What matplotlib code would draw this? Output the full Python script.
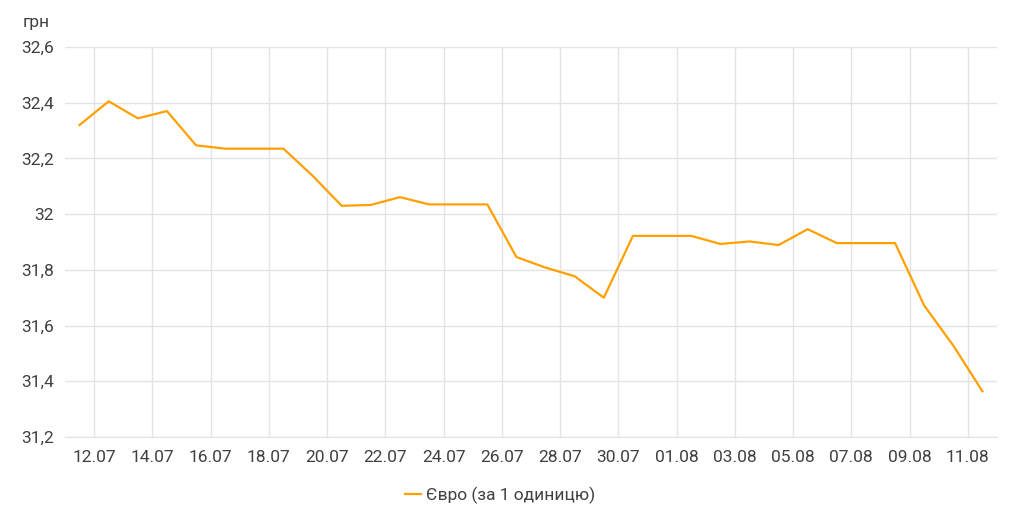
import matplotlib.pyplot as plt
import numpy as np

# Euro rate, one value per day from 11.07 to 11.08 (plotted at midday)
dates = ["11.07", "12.07", "13.07", "14.07", "15.07", "16.07", "17.07", "18.07",
         "19.07", "20.07", "21.07", "22.07", "23.07", "24.07", "25.07", "26.07",
         "27.07", "28.07", "29.07", "30.07", "31.07", "01.08", "02.08", "03.08",
         "04.08", "05.08", "06.08", "07.08", "08.08", "09.08", "10.08", "11.08"]
euro = [32.32, 32.405, 32.344, 32.37, 32.247, 32.235, 32.235, 32.235,
        32.138, 32.03, 32.033, 32.061, 32.035, 32.035, 32.035, 31.846,
        31.808, 31.777, 31.70, 31.922, 31.922, 31.922, 31.893, 31.902,
        31.889, 31.946, 31.896, 31.896, 31.896, 31.672, 31.528, 31.364]
y_ticks = [31.2, 31.4, 31.6, 31.8, 32.0, 32.2, 32.4, 32.6]
y_labels = ["31,2", "31,4", "31,6", "31,8", "32", "32,2", "32,4", "32,6"]

plt.rcParams["font.family"] = ["Roboto", "DejaVu Sans"]
text_color = "#404040"
grid_color = "#e3e3e3"

fig = plt.figure(figsize=(10.24, 5.3), dpi=100)
ax = fig.add_axes([65 / 1024, 1 - 437 / 530, 932 / 1024, 390 / 530])

x = np.arange(len(dates)) + 0.5
line, = ax.plot(x, euro, color="#FFA000", lw=1.6, solid_joinstyle="round",
                label="Євро (за 1 одиницю)", zorder=3)

tick_idx = list(range(1, len(dates), 2))
ax.set_xticks(tick_idx)
ax.set_xticklabels([dates[i] for i in tick_idx])
ax.set_xlim(0, len(dates))
ax.set_yticks(y_ticks)
ax.set_yticklabels(y_labels)
ax.set_ylim(31.2, 32.6)

ax.grid(True, color=grid_color, lw=1)
ax.set_axisbelow(True)
for side in ["top", "right", "left"]:
    ax.spines[side].set_visible(False)
ax.spines["bottom"].set_color(grid_color)
ax.tick_params(length=0, labelsize=12.5, colors=text_color)
ax.tick_params(axis="x", pad=9)
ax.tick_params(axis="y", pad=8)

fig.text(23 / 1024, 1 - 22 / 530, "грн", fontsize=12.5, color=text_color,
         va="center", ha="left")

fig.legend(handles=[line], loc="center", bbox_to_anchor=(500 / 1024, 1 - 495 / 530),
           frameon=False, fontsize=12.5, handlelength=0.9, handletextpad=0.3,
           labelcolor=text_color)

fig.savefig("out.png", dpi=100)
